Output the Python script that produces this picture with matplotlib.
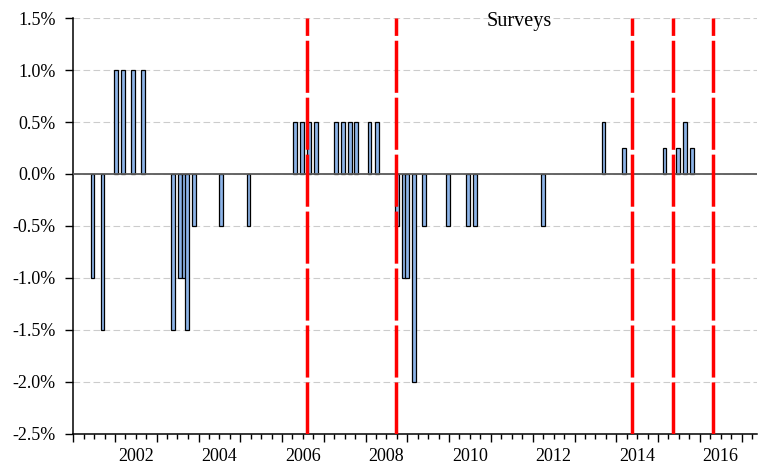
import matplotlib
matplotlib.use('Agg')
import matplotlib.pyplot as plt
import matplotlib.dates as mdates
import pandas as pd

# rate changes (percentage points) and their dates
change_dates = ['2001-06-18', '2001-09-14', '2002-01-08', '2002-03-10',
                '2002-06-08', '2002-09-03', '2003-05-22', '2003-07-26',
                '2003-08-24', '2003-09-22', '2003-11-20', '2004-07-16',
                '2005-03-13', '2006-04-26', '2006-06-27', '2006-08-23',
                '2006-10-22', '2007-04-20', '2007-06-17', '2007-08-15',
                '2007-10-12', '2008-02-05', '2008-04-07', '2008-10-02',
                '2008-11-29', '2008-12-28', '2009-02-27', '2009-05-25',
                '2009-12-20', '2010-06-16', '2010-08-13', '2012-03-29',
                '2013-09-12', '2014-03-08', '2015-02-26', '2015-06-26',
                '2015-08-22', '2015-10-23']
change_values = [-1.0, -1.5, 1.0, 1.0,
                 1.0, 1.0, -1.5, -1.0,
                 -1.0, -1.5, -0.5, -0.5,
                 -0.5, 0.5, 0.5, 0.5,
                 0.5, 0.5, 0.5, 0.5,
                 0.5, 0.5, 0.5, -0.5,
                 -1.0, -1.0, -2.0, -0.5,
                 -0.5, -0.5, -0.5, -0.5,
                 0.5, 0.25, 0.25, 0.25,
                 0.5, 0.25]

# survey dates (red dashed lines)
survey_dates = ['2006-08-04', '2008-09-20', '2014-05-22', '2015-05-09', '2016-04-29']

year_labels = [2002, 2004, 2006, 2008, 2010, 2012, 2014, 2016]
y_ticks = [-2.5, -2.0, -1.5, -1.0, -0.5, 0.0, 0.5, 1.0, 1.5]

plt.rcParams['font.family'] = ['Liberation Serif', 'DejaVu Serif']

fig = plt.figure(figsize=(7.61, 4.70), dpi=100)
ax = fig.add_axes([0.0963, 0.0766, 0.8984, 0.8851])

x = pd.to_datetime(change_dates)
ax.bar(x, change_values, width=33, color='#8db4e8', edgecolor='black',
       linewidth=0.9, zorder=2)

ax.axhline(0, color='#5a5a5a', linewidth=1.3, zorder=3)

for d in pd.to_datetime(survey_dates):
    ax.axvline(d, color='#ff0000', linewidth=2.5, dashes=(15, 1.4), zorder=4)

ax.set_ylim(-2.5, 1.5)
ax.set_yticks(y_ticks)
ax.set_yticklabels(['%.1f%%' % v for v in y_ticks])
ax.yaxis.grid(True, color='#cccccc', linestyle=(0, (6, 3)), linewidth=0.8)
ax.set_axisbelow(True)

ax.set_xlim(pd.Timestamp('2001-01-01'), pd.Timestamp('2017-05-15'))
ax.xaxis.set_major_locator(mdates.YearLocator())
ax.xaxis.set_minor_locator(mdates.MonthLocator(bymonth=[1, 4, 7, 10]))
ax.xaxis.set_major_formatter(plt.NullFormatter())

ax.tick_params(axis='x', which='major', length=6, width=1, direction='out')
ax.tick_params(axis='x', which='minor', length=3.5, width=1, direction='out')
ax.tick_params(axis='y', length=5.5, width=1, pad=7, labelsize=13)

# year labels sit in the middle of their year
for yr in year_labels:
    ax.text(pd.Timestamp('%d-07-02' % yr), -0.053, str(yr),
            transform=ax.get_xaxis_transform(), ha='center', va='center',
            fontsize=13)

for s in ['top', 'right']:
    ax.spines[s].set_visible(False)
for s in ['left', 'bottom']:
    ax.spines[s].set_linewidth(1.1)

ax.text(0.652, 0.992, 'Surveys', transform=ax.transAxes, ha='center',
        va='center', fontsize=14.5)

fig.savefig('out.png', dpi=100)
